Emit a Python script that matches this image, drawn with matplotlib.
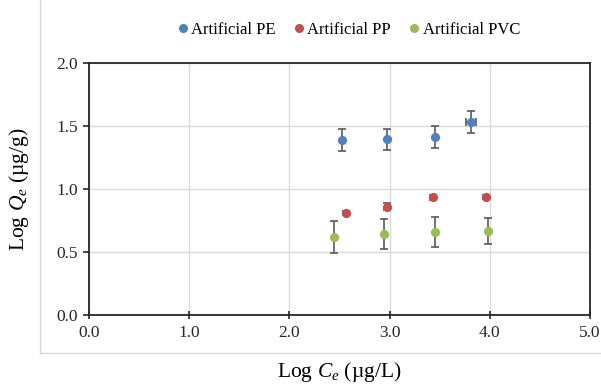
import matplotlib
matplotlib.use('Agg')
from matplotlib import pyplot as plt
from matplotlib.lines import Line2D

# Datos (Log Ce, Log Qe, error).
pe_x = [2.52, 2.97, 3.45, 3.81]
pe_y = [1.39, 1.395, 1.41, 1.535]
pe_err = [0.085, 0.082, 0.088, 0.087]
pe_xerr = [0.0, 0.0, 0.0, 0.05]

pp_x = [2.56, 2.97, 3.43, 3.96]
pp_y = [0.81, 0.86, 0.935, 0.935]
pp_err = [0.015, 0.025, 0.02, 0.015]

pvc_x = [2.45, 2.94, 3.45, 3.98]
pvc_y = [0.62, 0.643, 0.66, 0.665]
pvc_err = [0.125, 0.118, 0.117, 0.105]

labels = ['Artificial PE', 'Artificial PP', 'Artificial PVC']
colors = ['#4F81BD', '#C0504D', '#9BBB59']
x_ticks = [0.0, 1.0, 2.0, 3.0, 4.0, 5.0]
y_ticks = [0.0, 0.5, 1.0, 1.5, 2.0]

plt.rcParams['font.family'] = ['Liberation Serif', 'DejaVu Serif']
plt.rcParams['mathtext.fontset'] = 'custom'
plt.rcParams['mathtext.it'] = 'Liberation Serif:italic'
plt.rcParams['mathtext.rm'] = 'Liberation Serif'

fig = plt.figure(figsize=(6.01, 3.89), dpi=100)
ax = fig.add_axes([89/601, 1 - 315/389, (590-89)/601, (315-63)/389])

err_color = '#595959'
series = [(pe_x, pe_y, pe_err, pe_xerr), (pp_x, pp_y, pp_err, None), (pvc_x, pvc_y, pvc_err, None)]
for (xs, ys, es, xe), c in zip(series, colors):
    ax.errorbar(xs, ys, yerr=es, xerr=xe, fmt='none', ecolor=err_color,
                elinewidth=1.2, capsize=3, capthick=1.2, zorder=2)
    ax.scatter(xs, ys, s=44, color=c, zorder=3, linewidths=0)

ax.set_xlim(0, 5)
ax.set_ylim(0, 2)
ax.set_xticks(x_ticks)
ax.set_yticks(y_ticks)
ax.set_xticklabels(['%.1f' % v for v in x_ticks], fontsize=12.5)
ax.set_yticklabels(['%.1f' % v for v in y_ticks], fontsize=12.5)
ax.grid(True, color='#D9D9D9', linewidth=1)
ax.set_axisbelow(True)
for s in ax.spines.values():
    s.set_color('#262626')
    s.set_linewidth(1.3)
ax.tick_params(axis='x', direction='inout', length=6, width=1.2, pad=4, colors='#262626')
ax.tick_params(axis='y', direction='out', length=4, width=1.2, pad=4, colors='#262626')

ax.set_xlabel('Log $C_e$ (\u00b5g/L)', fontsize=15.5, labelpad=14)
ax.set_ylabel('Log $Q_e$ (\u00b5g/g)', fontsize=15.5, labelpad=18)

# Leyenda superior.
handles = [Line2D([], [], marker='o', linestyle='none', color=c, markersize=5.5) for c in colors]
fig.legend(handles, labels, loc='center', bbox_to_anchor=(0.578, 0.923), ncol=3,
           frameon=False, fontsize=12, handletextpad=0.0, columnspacing=0.9,
           handlelength=1.0)

# Borde gris del area del grafico.
fig.add_artist(Line2D([40/601, 40/601], [1, 1 - 353/389], color='#D9D9D9', linewidth=1))
fig.add_artist(Line2D([40/601, 1], [1 - 353/389, 1 - 353/389], color='#D9D9D9', linewidth=1))

fig.savefig('out.png', dpi=100)
